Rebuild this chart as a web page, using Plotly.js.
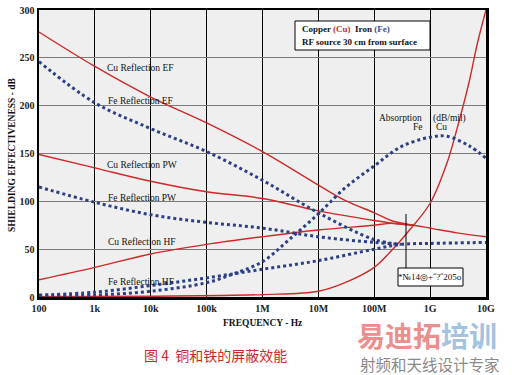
<!DOCTYPE html>
<html><head><meta charset="utf-8">
<script src="https://cdn.plot.ly/plotly-3.0.1.min.js"></script>
<style>html,body{margin:0;padding:0;background:#fff}#chart{width:512px;height:375px}</style>
</head><body><div id="chart"></div>
<script>
// Frequencies (Hz) and shielding effectiveness (dB)
const cuEF_f = [1e2,1e3,1e4,1e5,1e6,1e7,3e7,1e8,2e8,5e8];
const cuEF_v = [277,241,209,182,152,117,101,88,80,75];
const cuPW_f = [1e2,1e3,1e4,1e5,1e6,1e7,1e8,3e8,5e8];
const cuPW_v = [149,135,121,110,103,90,80,76,75];
const cuHF_f = [1e2,1e3,1e4,1e5,1e6,1e7,1e8,2e8,5e8,1e9,3e9,1e10];
const cuHF_v = [18,31,45,55,63,70,75,77,75,72,67,63];
const feEF_f = [1e2,1e3,1e4,1e5,1e6,1e7,1e8,3e8];
const feEF_v = [246,203,176,152,122,88,60,55];
const fePW_f = [1e2,1e3,1e4,1e5,1e6,1e7,1e8,3e8];
const fePW_v = [115,99,86,78,72,63,57,55];
const feHF_f = [1e2,1e3,1e4,1e5,1e6,1e7,1e8,3e8,1e9,1e10];
const feHF_v = [2,5,12,20,29,38,50,55,56,57];
const feAbs_f = [1e2,1e3,1e4,1e5,3e5,1e6,3e6,1e7,3e7,1e8,3e8,1e9,2e9,5e9,1e10];
const feAbs_v = [0.5,2,6,15,24,37,60,87,114,137,157,167,168,158,145];
const cuAbs_f = [1e2,1e4,1e6,1e7,3e7,1e8,2e8,4e8,1e9,2e9,3e9,5e9,7e9,1e10];
const cuAbs_v = [0.3,0.8,2.5,6,15,31,48,68,98,140,175,225,265,300];

const tickVals = [1e2,1e3,1e4,1e5,1e6,1e7,1e8,1e9,1e10];
const tickText = ['100','1k','10k','100k','1M','10M','100M','1G','10G'];
const yVals = [0,50,100,150,200,250,300];

const RED = '#cc2a2a', BLUE = '#2d3f86';
function red(f,v){return {x:f,y:v,type:'scatter',mode:'lines',line:{color:RED,width:1.4,shape:'spline',smoothing:1},hoverinfo:'skip'};}
function blue(f,v){return {x:f,y:v,type:'scatter',mode:'lines',line:{color:BLUE,width:3,dash:'dot',shape:'spline',smoothing:1},hoverinfo:'skip'};}

const data = [
  red(cuEF_f,cuEF_v), red(cuPW_f,cuPW_v), red(cuHF_f,cuHF_v), red(cuAbs_f,cuAbs_v),
  blue(feEF_f,feEF_v), blue(fePW_f,fePW_v), blue(feHF_f,feHF_v), blue(feAbs_f,feAbs_v)
];

const L=39, R=486, T=10, B=297;
const px = x => (x-L)/(R-L);
const py = y => (B-y)/(B-T);
const serif = 'Liberation Serif';
function lab(text,x,y,opts){return Object.assign({text:text,xref:'paper',yref:'paper',x:px(x),y:py(y),xanchor:'left',yanchor:'middle',showarrow:false,font:{family:serif,size:9.5,color:'#111'}},opts||{});}

const annotations = [
  lab('Cu Reflection EF',105,68),
  lab('Fe Reflection EF',106,101),
  lab('Cu Reflection PW',105,165),
  lab('Fe Reflection PW',106,198),
  lab('Cu Reflection HF',106,242),
  lab('Fe Reflection HF',106,282),
  lab('Absorption',377,118),
  lab('(dB/mil)',431,118),
  lab('Fe',411,127),
  lab('Cu',434,127),
  lab('<b>Copper <span style="color:#cc2a2a">(Cu)</span>  Iron <span style="color:#3a4aa0">(Fe)</span></b>',300,29,{font:{family:serif,size:9,color:'#111'}}),
  lab('<b>RF source 30 cm from surface</b>',300,42,{font:{family:serif,size:9,color:'#111'}}),
  lab('*№14◎+˝?˝205ο',430,277,{xanchor:'center',font:{family:serif,size:9,color:'#111'}}),
  lab('<b>FREQUENCY - Hz</b>',263,323,{xanchor:'center',font:{family:serif,size:9.5,color:'#111'}}),
  {text:'<b>SHIELDING EFFECTIVENESS - dB</b>',xref:'paper',yref:'paper',x:px(12),y:py(155),xanchor:'center',yanchor:'middle',textangle:-90,showarrow:false,font:{family:serif,size:9.5,color:'#111'}},
  lab('图 4  铜和铁的屏蔽效能',142,355,{font:{family:'Noto Sans CJK SC',size:14,color:'#cc2a2a'}}),
  lab('<b><span style="color:#ec8e8e">易迪拓</span><span style="color:#a3c3e0">培训</span></b>',356,314,{yanchor:'top',borderpad:0,font:{family:'Noto Sans CJK SC',size:28,color:'#ec8e8e'}}),
  lab('射频和天线设计专家',359,376,{yanchor:'bottom',borderpad:0,font:{family:'Noto Sans CJK SC',size:15.5,color:'#8a8a8a'}})
];

const shapes = [
  {type:'rect',xref:'paper',yref:'paper',x0:px(295),x1:px(430),y0:py(21),y1:py(50),line:{color:'#000',width:1},fillcolor:'#fff',layer:'above'},
  {type:'rect',xref:'paper',yref:'paper',x0:px(398),x1:px(463),y0:py(268),y1:py(286),line:{color:'#000',width:1},fillcolor:'#fff',layer:'above'},
  {type:'line',xref:'paper',yref:'paper',x0:px(406),x1:px(406),y0:py(214),y1:py(268),line:{color:'#000',width:1}}
];

const layout = {
  width:512,height:375,
  margin:{l:L,r:512-R,t:T,b:375-B},
  paper_bgcolor:'#fff',plot_bgcolor:'#efefef',
  showlegend:false,
  xaxis:{type:'log',range:[2,10],tickvals:tickVals,ticktext:tickText,showgrid:true,gridcolor:'#000',gridwidth:1.2,
    showline:true,mirror:true,linecolor:'#000',linewidth:2.5,zeroline:false,ticks:'',
    tickfont:{family:serif,size:10,color:'#222',weight:'bold'}},
  yaxis:{range:[0,300],tickvals:yVals,showgrid:true,gridcolor:'#7a7a7a',gridwidth:1.2,
    showline:true,mirror:true,linecolor:'#000',linewidth:2.5,zeroline:false,ticks:'',
    tickfont:{family:serif,size:10,color:'#222',weight:'bold'}},
  annotations:annotations,shapes:shapes
};
Plotly.newPlot('chart',data,layout,{staticPlot:true});
</script></body></html>
